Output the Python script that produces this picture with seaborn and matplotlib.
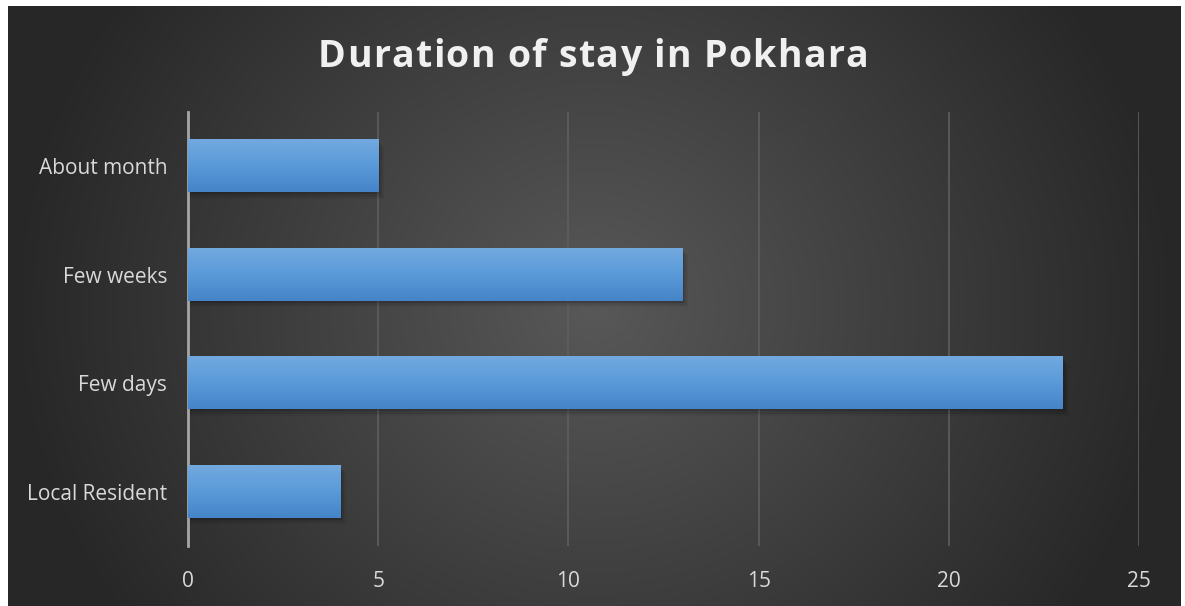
import matplotlib
matplotlib.use("Agg")
import matplotlib.pyplot as plt
import numpy as np
import pandas as pd
import seaborn as sns
from matplotlib.patches import Rectangle

categories = ["About month", "Few weeks", "Few days", "Local Resident"]
counts = [5, 13, 23, 4]
x_ticks = [0, 5, 10, 15, 20, 25]
title = "Duration of stay in Pokhara"

TEXT = "#d9d9d9"

sns.set_theme(style="dark")
plt.rcParams["font.family"] = ["Open Sans", "DejaVu Sans"]

fig = plt.figure(figsize=(11.85, 6.06), dpi=100)
fig.patch.set_facecolor("white")

# dark radial background panel
bg = fig.add_axes([8 / 1185, 0, 1173 / 1185, 600 / 606])
yy, xx = np.mgrid[-1:1:300j, -1:1:600j]
r = np.sqrt(xx ** 2 + (yy * 0.55) ** 2)
bg.imshow(np.clip(r, 0, 1), cmap=matplotlib.colors.LinearSegmentedColormap.from_list(
    "bg", ["#585858", "#272727"]), aspect="auto", extent=[0, 1, 0, 1])
bg.set_axis_off()

ax = fig.add_axes([188 / 1185, 60 / 606, 951 / 1185, 434 / 606])
ax.set_facecolor("none")

df = pd.DataFrame({"stay": categories, "count": counts})
sns.barplot(data=df, y="stay", x="count", orient="h", width=0.48,
            color="#5b9bd5", ax=ax, zorder=3)

blue = matplotlib.colors.LinearSegmentedColormap.from_list("bar", ["#72a9df", "#5a9ad9", "#4584c8"])
grad = np.linspace(0, 1, 64).reshape(-1, 1)
for p in ax.patches:
    x0, y0, w, h = p.get_x(), p.get_y(), p.get_width(), p.get_height()
    # soft drop shadow
    for k, a in enumerate([0.14, 0.09, 0.05]):
        ax.add_patch(Rectangle((x0, y0 + 0.02 * (k + 1)), w + 0.05 * (k + 1), h,
                               facecolor="black", alpha=a, lw=0, zorder=2))
    ax.imshow(grad, cmap=blue, aspect="auto", extent=[x0, x0 + w, y0 + h, y0],
              zorder=4)
    p.set_alpha(0)

ax.set_xlim(0, 25)
ax.set_ylim(3.5, -0.5)
ax.set_xticks(x_ticks)
ax.grid(axis="x", color="#5e5e5e", lw=1.2, zorder=1)
ax.grid(axis="y", visible=False)
for s in ["top", "right", "bottom"]:
    ax.spines[s].set_visible(False)
ax.spines["left"].set_color("#a6a6a6")
ax.spines["left"].set_linewidth(2)
ax.set_xlabel("")
ax.set_ylabel("")
ax.tick_params(axis="both", colors=TEXT, labelsize=15, length=0)
ax.tick_params(axis="x", pad=18)
ax.tick_params(axis="y", pad=15)

# title with a little letter spacing, placed char by char
renderer = fig.canvas.get_renderer()
tracking = 1.3  # px between letters
title_kw = dict(va="baseline", ha="left", fontsize=27, fontweight="bold", color="#f0f0f0")
chars = [fig.text(0, 1 - 67 / 606, c, **title_kw) for c in title]
widths = [t.get_window_extent(renderer).width if c != " " else 27 * 100 / 72 * 0.26
          for t, c in zip(chars, title)]
total = sum(widths) + tracking * (len(title) - 1)
x = 593 - total / 2
for t, w in zip(chars, widths):
    t.set_x(x / 1185)
    x += w + tracking

fig.savefig("out.png", dpi=100)
